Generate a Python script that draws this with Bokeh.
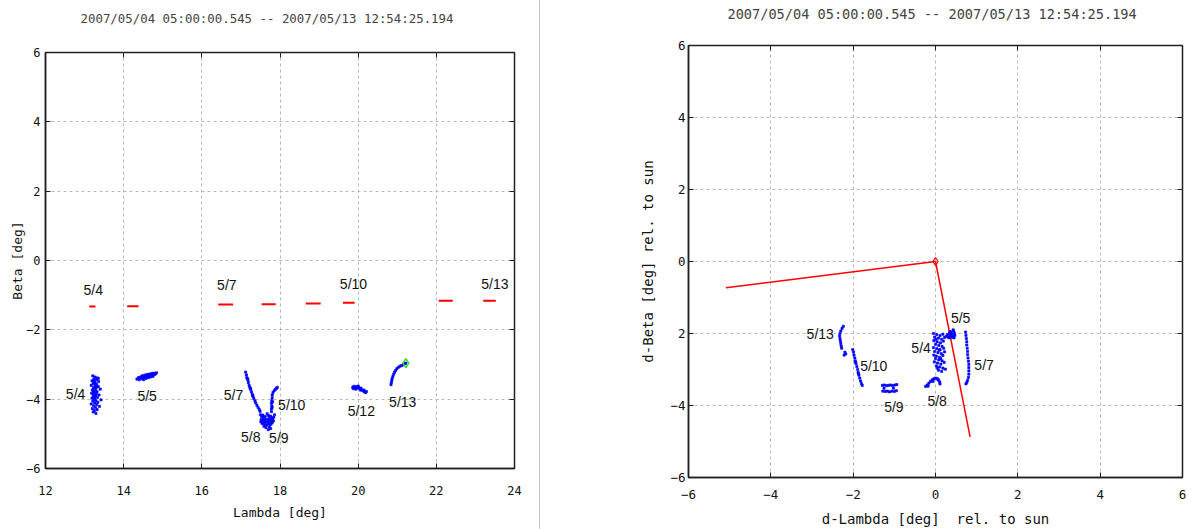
from bokeh.plotting import figure
from bokeh.models import Range1d, LinearAxis, FixedTicker, ColumnDataSource, Div
from bokeh.layouts import row
from bokeh.embed import file_html
from bokeh.resources import INLINE
from bokeh.core.properties import value

TITLE = "2007/05/04 05:00:00.545 -- 2007/05/13 12:54:25.194"

# ---------------- left chart: Lambda / Beta ----------------
L_ticks_x = [12, 14, 16, 18, 20, 22, 24]
L_ticks_y = [-6, -4, -2, 0, 2, 4, 6]

# sun positions (red dashes): lambda start, lambda end, beta
sun_lam_start = [13.12, 14.09, 16.42, 17.53, 18.66, 19.61, 22.06, 23.20]
sun_lam_end = [13.28, 14.38, 16.80, 17.89, 19.04, 19.91, 22.42, 23.52]
sun_beta = [-1.33, -1.32, -1.27, -1.26, -1.24, -1.22, -1.16, -1.16]

obs_0504 = [(13.21, -3.33), (13.27, -3.36), (13.33, -3.39), (13.24, -3.42), (13.30, -3.44), (13.19, -3.47),
            (13.36, -3.49), (13.26, -3.52), (13.22, -3.55), (13.31, -3.57), (13.17, -3.60), (13.28, -3.62),
            (13.35, -3.64), (13.23, -3.67), (13.29, -3.69), (13.40, -3.71), (13.20, -3.74), (13.26, -3.76),
            (13.32, -3.78), (13.24, -3.81), (13.18, -3.83), (13.30, -3.85), (13.37, -3.88), (13.22, -3.90),
            (13.27, -3.92), (13.33, -3.95), (13.19, -3.97), (13.25, -3.99), (13.42, -4.02), (13.29, -4.04),
            (13.21, -4.06), (13.34, -4.09), (13.26, -4.11), (13.17, -4.14), (13.31, -4.16), (13.23, -4.19),
            (13.38, -4.21), (13.28, -4.24), (13.20, -4.27), (13.32, -4.30), (13.25, -4.33), (13.22, -4.37),
            (13.29, -4.41), (13.24, -3.46), (13.28, -3.58), (13.25, -3.66), (13.23, -3.79), (13.29, -3.87),
            (13.26, -3.94), (13.24, -4.01), (13.27, -3.53), (13.22, -3.72), (13.31, -3.63), (13.25, -3.84),
            (13.35, -3.40)]
obs_0505 = [(14.34, -3.42), (14.38, -3.38), (14.40, -3.44), (14.43, -3.36), (14.45, -3.41), (14.47, -3.33),
            (14.49, -3.38), (14.51, -3.44), (14.53, -3.31), (14.55, -3.36), (14.57, -3.40), (14.59, -3.29),
            (14.61, -3.34), (14.63, -3.38), (14.65, -3.28), (14.67, -3.32), (14.69, -3.36), (14.71, -3.26),
            (14.73, -3.30), (14.75, -3.34), (14.77, -3.25), (14.79, -3.29), (14.81, -3.27), (14.84, -3.24),
            (14.56, -3.33), (14.62, -3.31), (14.68, -3.29), (14.52, -3.37), (14.46, -3.39), (14.74, -3.28),
            (14.58, -3.35), (14.64, -3.33)]
obs_0507 = [(17.12, -3.22), (17.14, -3.30), (17.15, -3.38), (17.18, -3.45), (17.19, -3.52), (17.21, -3.60),
            (17.23, -3.66), (17.25, -3.72), (17.27, -3.79), (17.29, -3.86), (17.31, -3.92), (17.33, -3.98),
            (17.36, -4.05), (17.38, -4.11), (17.41, -4.18), (17.44, -4.24), (17.47, -4.30), (17.49, -4.35),
            (17.17, -3.41), (17.24, -3.69), (17.30, -3.89)]
obs_0508 = [(17.50, -4.45), (17.53, -4.50), (17.56, -4.46), (17.59, -4.52), (17.52, -4.58), (17.55, -4.62),
            (17.58, -4.57), (17.61, -4.64), (17.54, -4.70), (17.57, -4.68), (17.60, -4.72), (17.63, -4.58),
            (17.65, -4.66), (17.62, -4.50), (17.51, -4.65), (17.66, -4.75), (17.59, -4.78), (17.64, -4.82)]
obs_0509 = [(17.67, -4.42), (17.70, -4.47), (17.73, -4.52), (17.76, -4.49), (17.79, -4.55), (17.69, -4.58),
            (17.72, -4.62), (17.75, -4.60), (17.78, -4.66), (17.81, -4.58), (17.84, -4.52), (17.71, -4.70),
            (17.74, -4.74), (17.77, -4.72), (17.80, -4.68), (17.83, -4.63), (17.73, -4.80), (17.76, -4.85),
            (17.70, -4.88), (17.86, -4.45), (17.68, -4.66)]
obs_0510 = [(17.78, -4.36), (17.78, -4.28), (17.79, -4.20), (17.78, -4.12), (17.79, -4.04), (17.80, -3.96),
            (17.80, -3.88), (17.82, -3.81), (17.85, -3.76), (17.88, -3.72), (17.91, -3.69), (17.93, -3.66),
            (17.81, -4.08), (17.80, -4.24)]
obs_0512 = [(19.86, -3.66), (19.89, -3.63), (19.92, -3.67), (19.95, -3.64), (19.98, -3.68), (20.01, -3.66),
            (20.04, -3.70), (20.07, -3.68), (20.10, -3.73), (20.13, -3.76), (20.16, -3.79), (20.19, -3.81),
            (20.21, -3.78), (19.88, -3.70), (19.94, -3.71), (20.00, -3.62), (20.06, -3.74), (20.15, -3.74)]
obs_0513 = [(20.84, -3.58), (20.85, -3.52), (20.86, -3.46), (20.87, -3.40), (20.89, -3.34), (20.91, -3.28),
            (20.93, -3.22), (20.96, -3.17), (20.99, -3.12), (21.03, -3.08), (21.07, -3.05), (21.11, -3.03),
            (21.15, -3.01), (21.19, -2.98), (21.22, -2.96)]
last_obs = [(21.22, -2.96)]

L_label_text = ["5/4", "5/7", "5/10", "5/13", "5/4", "5/5", "5/7", "5/10", "5/8", "5/9", "5/12", "5/13"]
L_label_x = [13.22, 16.64, 19.88, 23.50, 12.77, 14.60, 16.81, 18.30, 17.25, 17.97, 20.08, 21.14]
L_label_y = [-0.85, -0.72, -0.67, -0.67, -3.85, -3.92, -3.88, -4.16, -5.08, -5.11, -4.34, -4.08]

# ---------------- right chart: relative to sun ----------------
R_ticks = [-6, -4, -2, 0, 2, 4, 6]
R_tick_y_text = {-2: "2"}

sun_origin = [(0.0, 0.0)]
frame_end_x = [-5.09, 0.84]
frame_end_y = [-0.73, -4.87]

rel_0513 = [(-2.24, -1.80), (-2.27, -1.86), (-2.30, -1.93), (-2.32, -2.00), (-2.33, -2.07), (-2.32, -2.14),
            (-2.31, -2.21), (-2.30, -2.28), (-2.29, -2.35), (-2.28, -2.41), (-2.20, -2.52), (-2.18, -2.57),
            (-2.22, -2.60)]
rel_0510 = [(-2.01, -2.45), (-1.99, -2.52), (-1.98, -2.60), (-1.96, -2.68), (-1.95, -2.76), (-1.93, -2.84),
            (-1.91, -2.92), (-1.89, -3.00), (-1.88, -3.08), (-1.86, -3.16), (-1.84, -3.24), (-1.82, -3.32),
            (-1.80, -3.39), (-1.78, -3.44), (-1.94, -2.80), (-1.87, -3.12)]
rel_0509 = [(-1.29, -3.44), (-1.24, -3.43), (-1.19, -3.45), (-1.14, -3.44), (-1.09, -3.43), (-1.04, -3.45),
            (-0.99, -3.43), (-0.94, -3.42), (-1.28, -3.60), (-1.22, -3.61), (-1.17, -3.60), (-1.12, -3.62),
            (-1.06, -3.60), (-1.00, -3.61), (-0.95, -3.59), (-1.25, -3.52), (-1.02, -3.52)]
rel_0508 = [(-0.24, -3.47), (-0.20, -3.43), (-0.16, -3.38), (-0.12, -3.33), (-0.08, -3.29), (-0.04, -3.26),
            (0.00, -3.24), (0.04, -3.25), (0.08, -3.30), (0.10, -3.35), (0.11, -3.40), (-0.18, -3.46),
            (-0.06, -3.33), (0.06, -3.28)]
rel_0504 = [(-0.05, -2.00), (0.03, -2.03), (0.11, -2.06), (0.18, -2.02), (-0.02, -2.10), (0.07, -2.13),
            (0.15, -2.16), (0.22, -2.11), (-0.04, -2.20), (0.04, -2.23), (0.12, -2.26), (0.19, -2.21),
            (0.00, -2.30), (0.08, -2.33), (0.16, -2.36), (-0.05, -2.39), (0.03, -2.42), (0.11, -2.45),
            (0.20, -2.41), (-0.02, -2.50), (0.06, -2.53), (0.14, -2.56), (0.22, -2.51), (-0.04, -2.60),
            (0.02, -2.63), (0.10, -2.66), (0.18, -2.61), (0.00, -2.70), (0.08, -2.73), (0.16, -2.76),
            (-0.03, -2.79), (0.05, -2.82), (0.13, -2.85), (0.21, -2.80), (0.02, -2.90), (0.10, -2.93),
            (0.18, -2.96), (0.07, -3.02), (0.15, -3.05), (0.24, -2.99), (0.01, -2.16), (0.09, -2.46),
            (0.13, -2.70), (0.05, -2.96)]
rel_0505 = [(0.26, -2.08), (0.29, -2.03), (0.31, -2.10), (0.34, -2.00), (0.36, -2.06), (0.38, -1.96),
            (0.40, -2.02), (0.42, -2.08), (0.44, -1.93), (0.46, -1.99), (0.47, -2.05), (0.33, -2.12),
            (0.39, -2.11), (0.43, -1.90), (0.45, -2.12), (0.35, -1.95)]
rel_0507 = [(0.73, -1.96), (0.74, -2.05), (0.75, -2.14), (0.76, -2.23), (0.76, -2.32), (0.77, -2.41),
            (0.78, -2.50), (0.78, -2.59), (0.79, -2.68), (0.80, -2.77), (0.81, -2.86), (0.81, -2.95),
            (0.81, -3.04), (0.81, -3.13), (0.80, -3.22), (0.78, -3.30), (0.76, -3.36), (0.74, -3.40)]

R_label_text = ["5/13", "5/10", "5/9", "5/8", "5/4", "5/5", "5/7"]
R_label_x = [-2.80, -1.50, -1.01, 0.04, -0.35, 0.61, 1.18]
R_label_y = [-2.01, -2.90, -4.05, -3.87, -2.40, -1.56, -2.87]

MONO = "DejaVu Sans Mono"
SANS = "Liberation Sans"
BLUE = "#0000ff"
RED = "#ff0000"
H = 529


def xy(points):
    return ColumnDataSource(dict(x=[p[0] for p in points], y=[p[1] for p in points]))


def frame_axes(p, xt, yt, font_size, xstand, ystand, xlab_stand, ylab_stand, label_size, top_gap):
    p.outline_line_color = "#202020"
    p.outline_line_width = 1.5
    for ax, t in ((p.xaxis[0], xt), (p.yaxis[0], yt)):
        ax.ticker = FixedTicker(ticks=t)
        ax.major_tick_in = 5
        ax.major_tick_out = 0
        ax.minor_tick_line_color = None
        ax.axis_line_color = "#202020"
        ax.axis_line_width = 1.5
        ax.major_tick_line_color = "#202020"
        ax.major_label_text_font = MONO
        ax.major_label_text_font_size = font_size
        ax.major_label_text_color = "#111111"
        ax.axis_label_text_font = MONO
        ax.axis_label_text_font_size = label_size
        ax.axis_label_text_font_style = "normal"
        ax.axis_label_text_color = "#111111"
    p.xaxis[0].major_label_standoff = xstand
    p.yaxis[0].major_label_standoff = ystand
    p.xaxis[0].axis_label_standoff = xlab_stand
    p.yaxis[0].axis_label_standoff = ylab_stand
    # inward ticks on the top and right edges of the frame
    for loc, t in (("above", xt), ("right", yt)):
        ax = LinearAxis(ticker=FixedTicker(ticks=t), major_tick_in=5, major_tick_out=0,
                        minor_tick_line_color=None, axis_line_color=None,
                        major_tick_line_color="#202020", major_label_text_font_size="1px",
                        major_label_text_color=None, major_label_standoff=0)
        p.add_layout(ax, loc)
    # invisible spacer between the frame and the title
    spacer = LinearAxis(ticker=FixedTicker(ticks=xt), major_tick_in=0, major_tick_out=top_gap,
                        minor_tick_line_color=None, axis_line_color=None, major_tick_line_color=None,
                        major_label_text_font_size="1px", major_label_text_color=None,
                        major_label_standoff=0)
    p.add_layout(spacer, "above")
    for g, t in ((p.xgrid[0], xt), (p.ygrid[0], yt)):
        g.ticker = FixedTicker(ticks=t)
        g.grid_line_color = "#b8b8b8"
        g.grid_line_dash = "3 3"
        g.grid_line_width = 1


# ---------- left figure ----------
p1 = figure(width=539, height=H, output_backend="svg", toolbar_location=None,
            x_range=Range1d(12, 24), y_range=Range1d(-6, 6), frame_align=False,
            min_border_left=45, min_border_right=25, min_border_top=0, min_border_bottom=61,
            x_axis_label="Lambda [deg]", y_axis_label="Beta [deg]", title=TITLE)
frame_axes(p1, L_ticks_x, L_ticks_y, "12px", 17, 5, 7, -2, "13px", 18)
p1.title.align = "left"
p1.title.offset = 35
p1.title.text_font = MONO
p1.title.text_font_size = "12.4px"
p1.title.text_font_style = "normal"
p1.title.standoff = 17

p1.segment(x0=sun_lam_start, x1=sun_lam_end, y0=sun_beta, y1=sun_beta, line_color=RED, line_width=2)
for pts in (obs_0504, obs_0505, obs_0507, obs_0508, obs_0509, obs_0510, obs_0512, obs_0513):
    p1.scatter("x", "y", source=xy(pts), marker="square", size=2.2, line_width=0.6,
               line_color=BLUE, fill_color=BLUE)
p1.scatter("x", "y", source=xy(last_obs), marker="diamond", size=9, line_color="#33dd33",
           fill_color=None, line_width=1.5)
p1.text(x=L_label_x, y=L_label_y, text=L_label_text, text_font=value(SANS), text_font_size="14px",
        text_align="center", text_baseline="middle", text_color="#111111")

# ---------- separator ----------
sep = Div(width=1, height=H, margin=0, styles={"background-color": "#c4c4c4"})

# ---------- right figure ----------
p2 = figure(width=652, height=H, output_backend="svg", toolbar_location=None,
            x_range=Range1d(-6, 6), y_range=Range1d(-6, 6), frame_align=False,
            min_border_left=148, min_border_right=10, min_border_top=0, min_border_bottom=52,
            x_axis_label="d-Lambda [deg]\u00a0 rel. to sun", y_axis_label="d-Beta [deg] rel. to sun",
            title=TITLE)
frame_axes(p2, R_ticks, R_ticks, "12.5px", 12, 3, 9, 11, "14px", 21)
p2.yaxis[0].major_label_overrides = R_tick_y_text
p2.title.align = "left"
p2.title.offset = 39
p2.title.text_font = MONO
p2.title.text_font_size = "13.6px"
p2.title.text_font_style = "normal"
p2.title.standoff = 6

for i in range(len(frame_end_x)):
    p2.segment(x0=[sun_origin[0][0]], y0=[sun_origin[0][1]], x1=[frame_end_x[i]], y1=[frame_end_y[i]],
               line_color=RED, line_width=1.5)
for pts in (rel_0513, rel_0510, rel_0509, rel_0508, rel_0504, rel_0505, rel_0507):
    p2.scatter("x", "y", source=xy(pts), marker="square", size=2.2, line_width=0.6,
               line_color=BLUE, fill_color=BLUE)
p2.scatter("x", "y", source=xy(sun_origin), marker="diamond", size=8, line_color=RED,
           fill_color=None, line_width=1.2)
p2.text(x=R_label_x, y=R_label_y, text=R_label_text, text_font=value(SANS), text_font_size="14px",
        text_align="center", text_baseline="middle", text_color="#111111")

layout = row(p1, sep, p2, spacing=0)
open("out.html", "w").write(file_html(layout, INLINE))
